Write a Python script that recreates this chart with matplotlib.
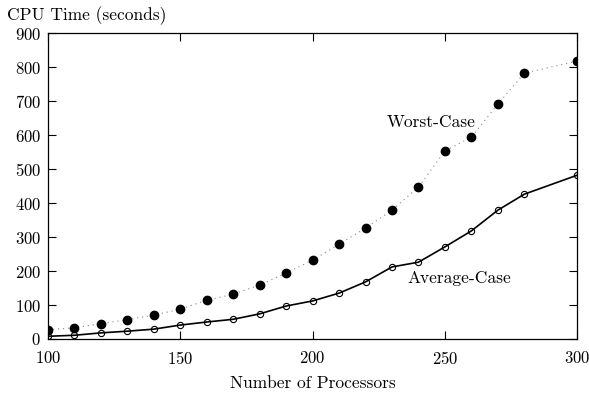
import matplotlib
matplotlib.use("Agg")
import matplotlib.pyplot as plt

# processor counts and measured CPU times (seconds)
procs_worst = [100, 110, 120, 130, 140, 150, 160, 170, 180, 190, 200,
               210, 220, 230, 240, 250, 260, 270, 280, 300]
worst = [27, 33, 45, 57, 70, 88, 114, 132, 159, 194, 232,
         279, 326, 379, 447, 553, 594, 691, 782, 818]

procs_avg = [100, 110, 120, 130, 140, 150, 160, 170, 180, 190, 200,
             210, 220, 230, 240, 250, 260, 270, 280, 300]
avg = [8, 11, 18, 23, 29, 41, 50, 58, 74, 97, 112,
       135, 168, 212, 226, 271, 318, 379, 426, 482]

xticks = [100, 150, 200, 250, 300]
yticks = [0, 100, 200, 300, 400, 500, 600, 700, 800, 900]

plt.rcParams['font.family'] = ['cmr10', 'DejaVu Serif']
plt.rcParams['axes.formatter.use_mathtext'] = True
plt.rcParams['font.size'] = 12.5

fig = plt.figure(figsize=(5.89, 3.94), dpi=100)
ax = fig.add_axes([0.0815, 0.1396, 0.8985, 0.7764])

# worst case: dotted line with filled dots
ax.plot(procs_worst, worst, color='#888888', linestyle=(0, (1, 3.5)), linewidth=0.8)
ax.plot(procs_worst, worst, 'o', color='black', markersize=6)

# average case: solid line with open circles
ax.plot(procs_avg, avg, color='black', linewidth=1.2, marker='o',
        markersize=4.5, markerfacecolor='none', markeredgewidth=0.8)

ax.text(228, 638, "Worst-Case", va='center', ha='left')
ax.text(236, 179, "Average-Case", va='center', ha='left')

ax.set_xlim(100, 300)
ax.set_ylim(0, 900)
ax.set_xticks(xticks)
ax.set_yticks(yticks)
ax.tick_params(direction='in', length=6, top=True, right=True, width=0.8,
               labelsize=12)
ax.tick_params(axis='x', pad=8)
ax.tick_params(axis='y', pad=5)
for s in ax.spines.values():
    s.set_linewidth(0.9)

ax.set_xlabel("Number of Processors", labelpad=6)
fig.text(0.012, 0.96, "CPU Time (seconds)", ha='left', va='center')

fig.savefig("out.png", dpi=100)
